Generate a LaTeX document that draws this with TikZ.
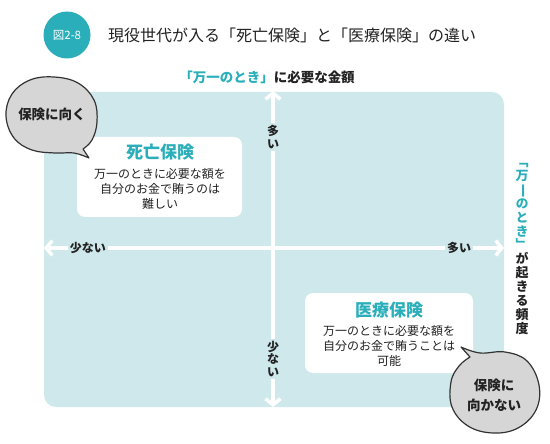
\documentclass[tikz,border=0pt]{standalone}
\usepackage{fontspec}
\setmainfont{Noto Sans CJK JP}
\newfontfamily\vfont[RawFeature=+vert]{Noto Sans CJK JP}
\usetikzlibrary{arrows.meta}
\definecolor{bgblue}{HTML}{CFE8EC}
\definecolor{tealc}{HTML}{2AAFBA}
\definecolor{ink}{HTML}{222222}
\definecolor{bubblegray}{HTML}{D6D6D6}
\definecolor{bubbleline}{HTML}{333333}
\tikzset{
  axisline/.style={draw=white, line width=3.5pt, {Straight Barb[length=6pt,width=15pt]}-{Straight Barb[length=6pt,width=15pt]}},
  axislabel/.style={fill=bgblue, text=ink, font=\bfseries\fontsize{12}{13}\selectfont, inner sep=2pt, align=center},
  infobox/.style={fill=white, rounded corners=8pt},
  boxtitle/.style={text=tealc, font=\bfseries\fontsize{17}{19}\selectfont},
  boxbody/.style={text=ink, font=\fontsize{12}{14.8}\selectfont, align=center},
  bubble/.style={fill=bubblegray, draw=bubbleline, line width=1.2pt, line join=round},
  bubbletext/.style={text=ink, font=\bfseries\fontsize{13.5}{20}\selectfont, align=center}
}
\begin{document}
\begin{tikzpicture}[x=1pt,y=-1pt]
\useasboundingbox (0,0) rectangle (550,444);
% title
\fill[tealc] (67,35) circle (23.5pt);
\node[text=white, font=\fontsize{11.5}{12}\selectfont] (fig) at (67,35) {図2-8};
\node[anchor=west, text=ink, font=\fontsize{16}{18}\selectfont, inner sep=0pt] (title) at (108,35) {現役世代が入る「死亡保険」と「医療保険」の違い};
% top label
\node[text=ink, font=\bfseries\fontsize{13.5}{15}\selectfont] (toplabel) at (267,77) {\textcolor{tealc}{「万一のとき」}に必要な金額};
% background
\fill[bgblue, rounded corners=12pt] (44,92) rectangle (504,407);
% axes
\coordinate (L) at (44,248);
\coordinate (R) at (504,248);
\coordinate (T) at (273,91);
\coordinate (B) at (273,407);
\draw[axisline] (L) -- (R);
\draw[axisline] (B) -- (T);
\node[axislabel] (lless) at (88,248) {少ない};
\node[axislabel] (rmore) at (459,248) {多い};
\node[axislabel, font=\bfseries\fontsize{12}{12.5}\selectfont] (tmore) at (273,137) {多\\い};
\node[axislabel, font=\bfseries\fontsize{12}{12.8}\selectfont] (bless) at (273,359) {少\\な\\い};
% right vertical label
\node[text=ink, font=\vfont\bfseries\fontsize{13}{13.9}\selectfont, align=center, inner sep=0pt] (rlabel) at (522,249)
  {\textcolor{tealc}{「}\\\textcolor{tealc}{万}\\\textcolor{tealc}{\rotatebox[origin=c]{-90}{一}}\\\textcolor{tealc}{の}\\\textcolor{tealc}{と}\\\textcolor{tealc}{き}\\\textcolor{tealc}{」}\\が\\起\\き\\る\\頻\\度};
% info boxes
\fill[infobox] (77,137) rectangle (242,217);
\node[boxtitle] (t1) at (160,152) {死亡保険};
\node[boxbody] (b1) at (160,189) {万一のときに必要な額を\\自分のお金で賄うのは\\難しい};
\fill[infobox] (305,293) rectangle (473,373);
\node[boxtitle] (t2) at (389,310) {医療保険};
\node[boxbody] (b2) at (389,346) {万一のときに必要な額を\\自分のお金で賄うことは\\可能};
% bubbles
\draw[bubble] plot[smooth, tension=0.65] coordinates {(89,158) (74,153) (55,153) (32,150) (14,138) (6,116) (12,94) (30,80) (54,77) (78,83) (94,100) (97,122) (92,140) (83,149)} -- cycle;
\node[bubbletext] (bub1) at (52,114) {保険に向く};
\draw[bubble] plot[smooth, tension=0.65] coordinates {(461,347) (480,353) (505,352) (527,361) (539,385) (536,410) (518,428) (493,433) (468,426) (452,407) (451,382) (459,366) (470,357)} -- cycle;
\node[bubbletext] (bub2) at (494,395) {保険に\\向かない};
\end{tikzpicture}
\end{document}
